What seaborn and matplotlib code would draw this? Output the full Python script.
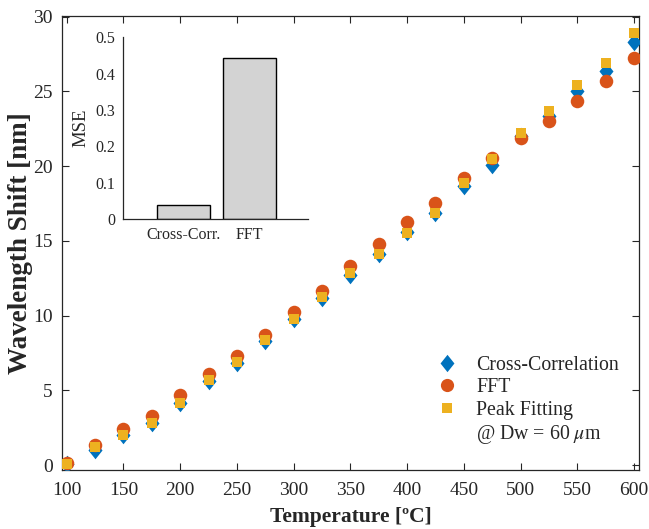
import numpy as np
import pandas as pd
import matplotlib
matplotlib.use("Agg")
import matplotlib.pyplot as plt
from matplotlib.lines import Line2D
from matplotlib.path import Path
import seaborn as sns

# Temperature sweep and measured wavelength shift for each demodulation method
temperature = [100, 125, 150, 175, 200, 225, 250, 275, 300, 325, 350,
               375, 400, 425, 450, 475, 500, 525, 550, 575, 600]
cross_corr = [0.10, 1.00, 2.00, 2.80, 4.15, 5.60, 6.80, 8.30, 9.80, 11.20, 12.75,
              14.10, 15.60, 16.90, 18.70, 20.10, 22.00, 23.35, 25.00, 26.40, 28.30]
fft = [0.15, 1.33, 2.44, 3.27, 4.71, 6.12, 7.33, 8.73, 10.22, 11.62, 13.33,
       14.82, 16.29, 17.56, 19.22, 20.55, 21.89, 23.05, 24.38, 25.67, 27.22]
peak_fit = [0.07, 1.18, 2.00, 2.82, 4.18, 5.67, 6.89, 8.40, 9.78, 11.27, 12.87,
            14.11, 15.56, 16.89, 18.89, 20.50, 22.22, 23.67, 25.44, 26.89, 28.89]

# Mean squared error of each method (inset)
mse_methods = ["Cross-Corr.", "FFT"]
mse_values = [0.0385, 0.444]

x_ticks = [100, 150, 200, 250, 300, 350, 400, 450, 500, 550, 600]
y_ticks = [0, 5, 10, 15, 20, 25, 30]
mse_ticks = [0, 0.1, 0.2, 0.3, 0.4, 0.5]

sns.set_theme(style="white")
plt.rcParams["font.family"] = ["Liberation Serif", "DejaVu Serif"]
plt.rcParams["mathtext.fontset"] = "stix"

blue = "#0072BD"
orange = "#D95319"
yellow = "#EDB120"
spine_col = "#262626"

# tall diamond marker
diamond = Path([(0, 1), (0.8, 0), (0, -1), (-0.8, 0), (0, 1)],
               [Path.MOVETO, Path.LINETO, Path.LINETO, Path.LINETO, Path.CLOSEPOLY])

df = pd.DataFrame({"T": temperature, "cc": cross_corr, "fft": fft, "pf": peak_fit})

fig = plt.figure(figsize=(6.49, 5.29), dpi=100)
ax = fig.add_axes([0.0955, 0.1115, 0.889, 0.8583])

sns.scatterplot(data=df, x="T", y="cc", ax=ax, marker=diamond, s=160,
                color=blue, linewidth=0, zorder=3)
sns.scatterplot(data=df, x="T", y="fft", ax=ax, marker="o", s=95,
                color=orange, linewidth=0, zorder=4)
sns.scatterplot(data=df, x="T", y="pf", ax=ax, marker="s", s=62,
                color=yellow, linewidth=0, zorder=5)

ax.set_xlim(95.8, 604.4)
ax.set_ylim(-0.33, 30.05)
ax.set_xticks(x_ticks)
ax.set_yticks(y_ticks)
ax.tick_params(direction="in", length=5, width=0.8, color=spine_col,
               labelsize=14, labelcolor=spine_col, top=True, right=True,
               bottom=True, left=True)
ax.tick_params(axis="x", pad=8.5)
ax.tick_params(axis="y", pad=6.5)
for sp in ax.spines.values():
    sp.set_color(spine_col)
    sp.set_linewidth(0.9)
ax.set_xlabel("Temperature [ºC]", fontsize=15.5, fontweight="bold", color=spine_col, labelpad=6)
ax.set_ylabel("Wavelength Shift [nm]", fontsize=19.5, fontweight="bold", color=spine_col, labelpad=0)

handles = [
    Line2D([], [], linestyle="none", marker=diamond, markersize=12.5, color=blue, markeredgewidth=0),
    Line2D([], [], linestyle="none", marker="o", markersize=9.5, color=orange, markeredgewidth=0),
    Line2D([], [], linestyle="none", marker="s", markersize=7.8, color=yellow, markeredgewidth=0),
    Line2D([], [], linestyle="none"),
]
labels = ["Cross-Correlation", "FFT", "Peak Fitting", r"@ Dw = 60 $\mu$m"]
ax.legend(handles, labels, loc="upper left", bbox_to_anchor=(0.641, 0.251),
          frameon=False, fontsize=14.3, handletextpad=0.75, labelspacing=0.17,
          handlelength=1.5, borderaxespad=0, borderpad=0)

# Inset: MSE comparison
ins = fig.add_axes([0.190, 0.586, 0.2846, 0.3435])
mse_df = pd.DataFrame({"method": mse_methods, "mse": mse_values})
sns.barplot(data=mse_df, x="method", y="mse", ax=ins, color="#D3D3D3",
            edgecolor="black", linewidth=1.0, saturation=1, width=0.8)
ins.set_xlim(-0.904, 1.878)
ins.set_ylim(0, 0.5)
ins.set_yticks(mse_ticks)
ins.set_yticklabels(["0", "0.1", "0.2", "0.3", "0.4", "0.5"])
ins.tick_params(length=0, labelsize=11.5, labelcolor=spine_col, pad=6)
ins.set_xlabel("")
ins.set_ylabel("MSE", fontsize=13.5, color=spine_col, labelpad=4)
ins.spines["top"].set_visible(False)
ins.spines["right"].set_visible(False)
for s in ("left", "bottom"):
    ins.spines[s].set_color(spine_col)
    ins.spines[s].set_linewidth(0.9)
ins.patch.set_alpha(0)

fig.savefig("out.png", dpi=100)
